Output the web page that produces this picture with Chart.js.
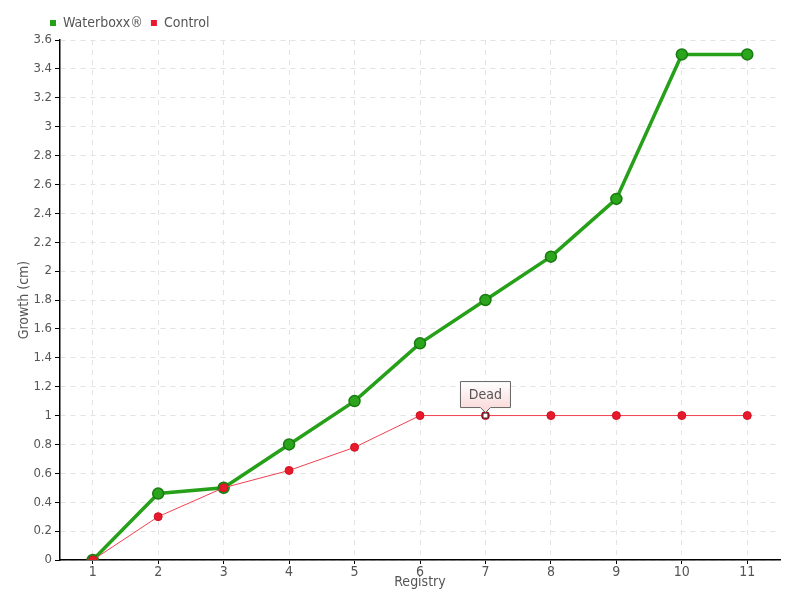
<!DOCTYPE html>
<html><head><meta charset="utf-8">
<script src="https://cdn.jsdelivr.net/npm/chart.js@4/dist/chart.umd.min.js"></script>
<style>html,body{margin:0;padding:0;background:#fff}#wrap{width:800px;height:600px}</style>
</head><body><div id="wrap"><canvas id="c" width="800" height="600"></canvas></div>
<script>
const categories = ['1','2','3','4','5','6','7','8','9','10','11'];
const waterboxx = [0, 0.46, 0.5, 0.8, 1.1, 1.5, 1.8, 2.1, 2.5, 3.5, 3.5];
const control = [0, 0.3, 0.5, 0.62, 0.78, 1.0, 1.0, 1.0, 1.0, 1.0, 1.0];
const annotationIndex = 6;
const annotationText = 'Dead';
const FAMILY = "'DejaVu Sans', sans-serif";
const F = (size) => ({ family: FAMILY, size: size, weight: 'normal condensed' });

const legendShift = {
  id: 'legendShift',
  afterLayout(chart) {
    if (chart.legend) {
      chart.legend.left += 42;
      chart.legend.right += 42;
    }
  }
};

const deadPlugin = {
  id: 'dead',
  afterDatasetsDraw(chart) {
    const ctx = chart.ctx;
    const x = chart.scales.x.getPixelForValue(annotationIndex);
    const y = chart.scales.y.getPixelForValue(control[annotationIndex]);
    ctx.save();
    ctx.fillStyle = '#fff';
    ctx.strokeStyle = '#222';
    ctx.lineWidth = 1;
    ctx.fillRect(x - 2.5, y - 2.5, 5, 5);
    ctx.strokeRect(x - 2.5, y - 2.5, 5, 5);
    const w = 50, h = 26, bx = x - 25, by = y - 34;
    const g = ctx.createLinearGradient(0, by, 0, by + h);
    g.addColorStop(0, '#ffffff');
    g.addColorStop(1, '#fbdcdc');
    ctx.beginPath();
    ctx.moveTo(bx, by);
    ctx.lineTo(bx + w, by);
    ctx.lineTo(bx + w, by + h);
    ctx.lineTo(x + 5, by + h);
    ctx.lineTo(x, by + h + 5);
    ctx.lineTo(x - 5, by + h);
    ctx.lineTo(bx, by + h);
    ctx.closePath();
    ctx.fillStyle = g;
    ctx.fill();
    ctx.strokeStyle = '#666';
    ctx.stroke();
    ctx.fillStyle = '#555';
    ctx.font = "normal condensed 14px " + FAMILY;
    ctx.textAlign = 'center';
    ctx.textBaseline = 'middle';
    ctx.fillText(annotationText, x, by + h / 2 + 1);
    ctx.restore();
  }
};

new Chart(document.getElementById('c'), {
  type: 'line',
  data: {
    labels: categories,
    datasets: [
      {
        label: 'Waterboxx®',
        data: waterboxx,
        order: 2,
        borderColor: '#25a018',
        backgroundColor: '#25a018',
        borderWidth: 3.5,
        pointRadius: 5.5,
        pointBackgroundColor: '#2aa51c',
        pointBorderColor: '#1a7a12',
        pointBorderWidth: 1.5,
        tension: 0
      },
      {
        label: 'Control',
        data: control,
        order: 1,
        borderColor: '#f04050',
        backgroundColor: '#e8192c',
        borderWidth: 1,
        pointRadius: 4,
        pointBackgroundColor: '#e8192c',
        pointBorderColor: '#d0101e',
        pointBorderWidth: 1,
        tension: 0
      }
    ]
  },
  options: {
    responsive: false,
    animation: false,
    layout: { padding: { left: 0, right: 20, top: 8, bottom: 0 } },
    plugins: {
      legend: {
        position: 'top',
        align: 'start',
        labels: {
          boxWidth: 6, boxHeight: 6, padding: 8, color: '#555',
          font: F(14),
          generateLabels: (chart) => Chart.defaults.plugins.legend.labels.generateLabels(chart)
            .map(l => Object.assign(l, { lineWidth: 0, strokeStyle: 'transparent' }))
            .sort((a, b) => a.datasetIndex - b.datasetIndex)
        }
      },
      tooltip: { enabled: false }
    },
    scales: {
      x: {
        offset: true,
        afterFit: s => { s.height = 40; },
        title: { display: true, text: 'Registry', color: '#555', font: F(14), padding: { top: 0, bottom: 9 } },
        ticks: { color: '#555', font: F(14), padding: 0 },
        grid: { color: '#e3e3e3', tickColor: '#000', tickLength: 4, offset: false },
        border: { color: '#000', width: 1.5, dash: [5, 5] }
      },
      y: {
        min: 0, max: 3.6,
        afterFit: s => { s.width = 60; },
        title: { display: true, text: 'Growth (cm)', color: '#555', font: F(14), padding: { top: 16, bottom: 0 } },
        ticks: { stepSize: 0.2, color: '#555', font: F(13), padding: 3,
          callback: v => Math.round(v * 10) / 10 },
        grid: { color: '#e3e3e3', tickColor: '#000', tickLength: 5 },
        border: { color: '#000', width: 1.5, dash: [5, 5] }
      }
    }
  },
  plugins: [legendShift, deadPlugin]
});
</script></body></html>
